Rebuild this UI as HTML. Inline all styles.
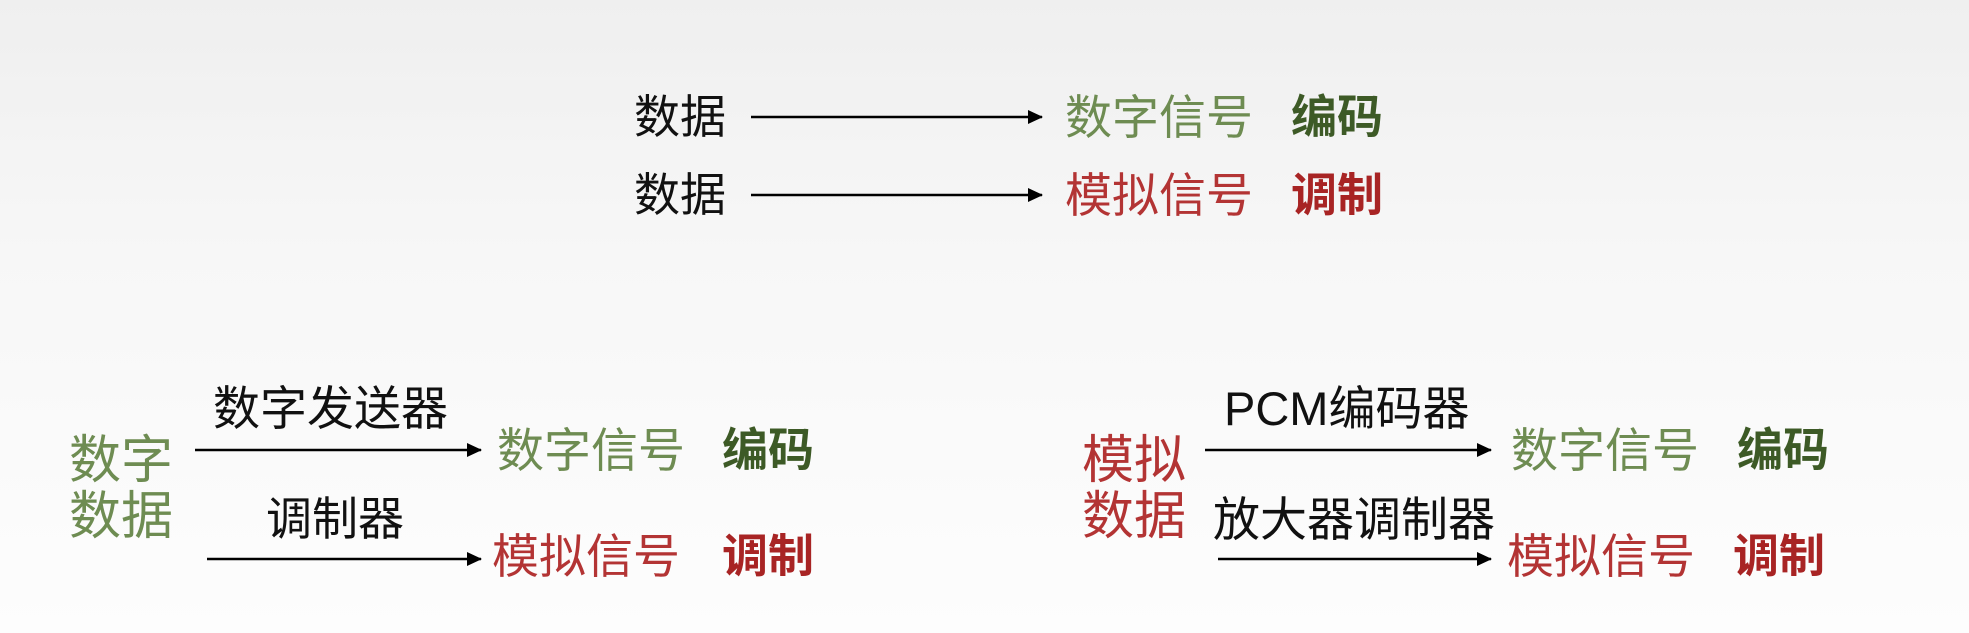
<!DOCTYPE html>
<html><head><meta charset="utf-8"><style>
html,body{margin:0;padding:0}
body{width:1969px;height:633px;position:relative;overflow:hidden;background:linear-gradient(#efefef 0%,#f7f7f7 40%,#fdfdfd 100%);font-family:"Liberation Sans","Noto Sans CJK SC",sans-serif}
.t{position:absolute;line-height:1;white-space:nowrap;color:#111}
.g{color:#6e8c52}.gb{color:#3d5a26;font-weight:bold}
.r{color:#b33434}.rb{color:#a82424;font-weight:bold}
svg{position:absolute;left:0;top:0}
</style></head><body>
<svg width="1969" height="633">
<defs><marker id="a" markerWidth="16" markerHeight="16" refX="14" refY="8" orient="auto" markerUnits="userSpaceOnUse"><path d="M0,1 L15,8 L0,15 z" fill="#000"/></marker></defs>
<g stroke="#000" stroke-width="2.5" marker-end="url(#a)">
<line x1="751" y1="117" x2="1042" y2="117"/>
<line x1="751" y1="195" x2="1042" y2="195"/>
<line x1="195" y1="450" x2="481" y2="450"/>
<line x1="207" y1="559" x2="481" y2="559"/>
<line x1="1205" y1="450" x2="1491" y2="450"/>
<line x1="1218" y1="559" x2="1491" y2="559"/>
</g></svg>
<div class="t" style="left:634px;top:94px;font-size:46px">数据</div>
<div class="t" style="left:634px;top:172px;font-size:46px">数据</div>
<div class="t g" style="left:1065px;top:94px;font-size:47px">数字信号</div>
<div class="t gb" style="left:1291px;top:94px;font-size:46px">编码</div>
<div class="t r" style="left:1065px;top:172px;font-size:47px">模拟信号</div>
<div class="t rb" style="left:1291px;top:172px;font-size:46px">调制</div>

<div class="t g" style="left:69px;top:435px;font-size:52px">数字</div>
<div class="t g" style="left:69px;top:491px;font-size:52px">数据</div>
<div class="t" style="left:213px;top:385px;font-size:47px">数字发送器</div>
<div class="t g" style="left:497px;top:427px;font-size:47px">数字信号</div>
<div class="t gb" style="left:722px;top:427px;font-size:46px">编码</div>
<div class="t" style="left:266px;top:496px;font-size:46px">调制器</div>
<div class="t r" style="left:492px;top:533px;font-size:47px">模拟信号</div>
<div class="t rb" style="left:722px;top:533px;font-size:46px">调制</div>

<div class="t r" style="left:1082px;top:435px;font-size:52px">模拟</div>
<div class="t r" style="left:1082px;top:491px;font-size:52px">数据</div>
<div class="t" style="left:1224px;top:385px;font-size:47px">PCM编码器</div>
<div class="t g" style="left:1511px;top:427px;font-size:47px">数字信号</div>
<div class="t gb" style="left:1737px;top:427px;font-size:46px">编码</div>
<div class="t" style="left:1213px;top:496px;font-size:47px">放大器调制器</div>
<div class="t r" style="left:1507px;top:533px;font-size:47px">模拟信号</div>
<div class="t rb" style="left:1733px;top:533px;font-size:46px">调制</div>
</body></html>
